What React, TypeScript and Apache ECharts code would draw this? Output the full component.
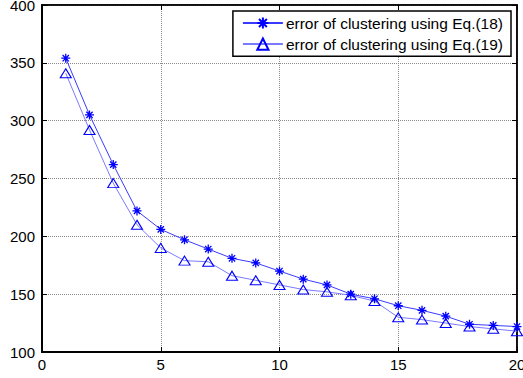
import React, { useEffect, useRef } from "react";
import * as echarts from "echarts";

const xValues = [1, 2, 3, 4, 5, 6, 7, 8, 9, 10, 11, 12, 13, 14, 15, 16, 17, 18, 19, 20];
const eq18 = [354, 305, 262, 222, 206, 197, 189, 181, 177, 170, 163, 158, 150, 146, 140, 136, 131, 124, 123, 122];
const eq19 = [341, 292, 246, 210, 190, 179, 178, 166, 162, 158, 154, 152, 149, 144, 130, 128, 125, 122, 120, 118];
const seriesNames = ["error of clustering using Eq.(18)", "error of clustering using Eq.(19)"];

const FONT = "'Liberation Sans', Arial, sans-serif";
const STAR = "path://M0,-5L0,5M-5,0L5,0M-3.5,-3.5L3.5,3.5M-3.5,3.5L3.5,-3.5";

export default function App() {
  const ref = useRef<HTMLDivElement>(null);
  useEffect(() => {
    if (!ref.current) return;
    const chart = echarts.init(ref.current, null, { renderer: "svg" });
    const gridLine = { show: true, lineStyle: { color: "#8a8a8a", type: [1, 1] as any, width: 1 } };
    chart.setOption({
      animation: false,
      backgroundColor: "#fff",
      grid: {
        left: 42, top: 5, right: 6, bottom: 26,
        outerBoundsMode: "none", containLabel: false,
        show: true, borderColor: "#000", borderWidth: 1.5, backgroundColor: "transparent",
      },
      legend: {
        right: 12,
        top: 11,
        orient: "vertical",
        backgroundColor: "#fff",
        borderColor: "#000",
        borderWidth: 1.5,
        borderRadius: 0,
        padding: [4, 8, 4, 9],
        itemWidth: 40,
        itemHeight: 14,
        itemGap: 5,
        textStyle: { fontFamily: FONT, fontSize: 15.5, color: "#000", padding: [0, 0, 0, -2] },
        data: seriesNames,
      },
      xAxis: [
        {
          type: "value", min: 0, max: 20, interval: 5, position: "bottom",
          axisLine: { show: true, onZero: false, lineStyle: { color: "#000", width: 2 } },
          axisTick: { show: true, inside: true, length: 5, lineStyle: { color: "#000" } },
          axisLabel: { fontFamily: FONT, fontSize: 15, color: "#000", margin: 5 },
          splitLine: gridLine,
        },
        {
          type: "value", min: 0, max: 20, interval: 5, position: "top",
          axisLine: { show: true, onZero: false, lineStyle: { color: "#000", width: 1.5 } },
          axisTick: { show: true, inside: true, length: 5, lineStyle: { color: "#000" } },
          axisLabel: { show: false },
          splitLine: { show: false },
        },
      ],
      yAxis: [
        {
          type: "value", min: 100, max: 400, interval: 50, position: "left",
          axisLine: { show: true, onZero: false, lineStyle: { color: "#000", width: 2 } },
          axisTick: { show: true, inside: true, length: 5, lineStyle: { color: "#000" } },
          axisLabel: { fontFamily: FONT, fontSize: 15, color: "#000", margin: 7 },
          splitLine: gridLine,
        },
        {
          type: "value", min: 100, max: 400, interval: 50, position: "right",
          axisLine: { show: true, onZero: false, lineStyle: { color: "#000", width: 1.5 } },
          axisTick: { show: true, inside: true, length: 5, lineStyle: { color: "#000" } },
          axisLabel: { show: false },
          splitLine: { show: false },
        },
      ],
      series: [
        {
          name: seriesNames[0],
          type: "line",
          data: xValues.map((x, i) => [x, eq18[i]]),
          symbol: STAR,
          symbolSize: 9,
          lineStyle: { color: "#3a3aff", width: 1 },
          itemStyle: { color: "#0000ff", borderColor: "#0000ff", borderWidth: 1.3 },
          z: 3,
        },
        {
          name: seriesNames[1],
          type: "line",
          data: xValues.map((x, i) => [x, eq19[i]]),
          symbol: "triangle",
          symbolSize: [11, 9],
          lineStyle: { color: "#7a7aff", width: 1 },
          itemStyle: { color: "none", borderColor: "#0000ff", borderWidth: 1.1 },
          z: 2,
        },
      ],
    });
    return () => chart.dispose();
  }, []);
  return <div ref={ref} style={{ width: 523, height: 378, position: "absolute", left: 0, top: 0 }} />;
}
